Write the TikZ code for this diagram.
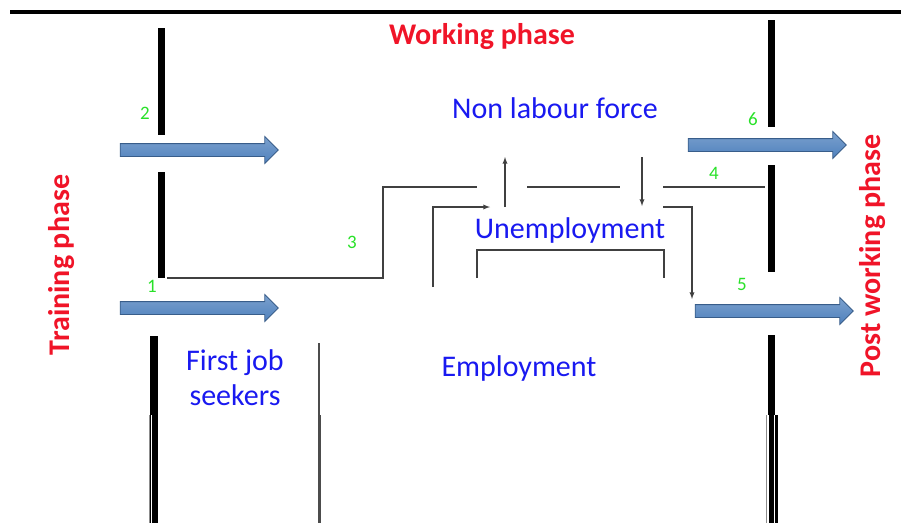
\documentclass[tikz,border=0pt]{standalone}
\usepackage{fontspec}
\setmainfont{Carlito}
\usetikzlibrary{shapes.arrows}
\definecolor{phasered}{RGB}{240,20,40}
\definecolor{stateblue}{RGB}{25,25,240}
\definecolor{numgreen}{RGB}{40,225,40}
\definecolor{flowfill}{RGB}{79,129,189}
\definecolor{flowedge}{RGB}{56,93,138}
\begin{document}
\begin{tikzpicture}[x=1pt,y=-1pt,
  phase/.style={text=phasered,font=\fontsize{30}{36}\selectfont\bfseries},
  state/.style={text=stateblue,font=\fontsize{30}{35}\selectfont,align=center},
  num/.style={text=numgreen,font=\fontsize{19}{21}\selectfont},
  bar/.style={line width=7pt},
  slit/.style={line width=1.1pt,color=white},
  conn/.style={line width=1.3pt,color=black!75},
  flow/.style={single arrow,draw=flowedge,line width=0.8pt,top color=flowfill!75!white,
    bottom color=flowfill,shading angle=0,minimum height=158pt,
    single arrow head extend=7pt,inner sep=6pt}]
\useasboundingbox (0,0) rectangle (901,523);
\draw [line width=4pt] (10,12) -- (901,12);
% phases
\node [phase] (work) at (482,37) {Working phase};
\node [phase,rotate=90] (train) at (62,265) {Training phase};
\node [phase,rotate=90] (post) at (873,256) {Post working phase};
% states
\node [state] (nlf) at (555,108) {Non labour force};
\node [state] (unemp) at (570,230) {Unemployment};
\node [state] (emp) at (519,368) {Employment};
\node [state] (first) at (235,378) {First job\\seekers};
% borders
\draw [bar] (161,28) -- (161,135);
\draw [bar] (161,172) -- (161,278);
\draw [bar,line width=8pt] (154,336) -- (154,523);
\draw [slit] (151.5,415) -- (151.5,523);
\draw [line width=1pt,color=black!45] (149.5,415) -- (149.5,523);
\draw [bar] (771,20) -- (771,127);
\draw [bar] (771,165) -- (771,272);
\draw [bar] (771,335) -- (771,415);
\draw [line width=12pt] (771.5,415) -- (771.5,523);
\draw [slit] (768,415) -- (768,523);
\draw [slit] (774.5,415) -- (774.5,523);
\draw [line width=1pt,color=black!45] (766,415) -- (766,523);
\draw [line width=2pt,color=black!70] (319,343) -- (319,415);
\draw [line width=3pt,color=black!70] (319,415) -- (319,523);
% flows
\node [flow] (f2) at (196,150) {};
\node [flow] (f1) at (196,308) {};
\node [flow] (f6) at (764,145) {};
\node [flow] (f5) at (771,311) {};
% connectors
\coordinate (s3) at (167,278);
\coordinate (k3) at (383,187);
\coordinate (e3) at (477,187);
\coordinate (m1) at (527,187);
\coordinate (m2) at (620,187);
\coordinate (s4) at (663,187);
\coordinate (e4) at (765,187);
\coordinate (s7) at (433,287);
\coordinate (e7) at (490,207);
\coordinate (up1) at (505,207);
\coordinate (up2) at (505,157);
\coordinate (dn1) at (642,157);
\coordinate (dn2) at (642,206);
\coordinate (s5) at (663,207);
\coordinate (e5) at (692,299);
\coordinate (b1) at (477,278);
\coordinate (b2) at (664,250);
\coordinate (b3) at (664,278);
\draw [conn] (s3) -| (k3) -- (e3);
\draw [conn] (m1) -- (m2);
\draw [conn] (s4) -- (e4);
\draw [conn,-latex] (s7) |- (e7);
\draw [conn,-latex] (up1) -- (up2);
\draw [conn,-latex] (dn1) -- (dn2);
\draw [conn,-latex] (s5) -| (e5);
\draw [conn] (b1) |- (b2) -- (b3);
% numbers
\node [num] (n1) at (152,286) {1};
\node [num] (n2) at (145,113) {2};
\node [num] (n3) at (352,242) {3};
\node [num] (n4) at (714,173) {4};
\node [num] (n5) at (742,284) {5};
\node [num] (n6) at (753,119) {6};
\end{tikzpicture}
\end{document}
